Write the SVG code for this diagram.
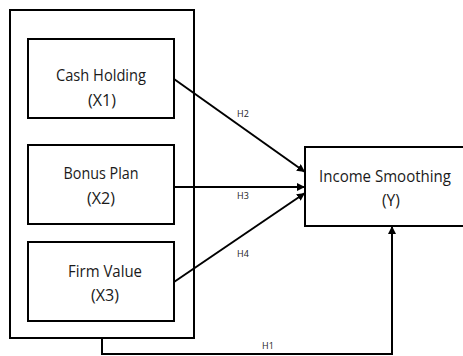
<svg xmlns="http://www.w3.org/2000/svg" width="463" height="356" viewBox="0 0 463 356">
<style>
.box{fill:#fff;stroke:#000;stroke-width:2}
.t{font-family:"Open Sans","Liberation Sans",sans-serif;font-size:17px;fill:#1a1a1a;text-anchor:middle}
.l{font-family:"Open Sans","Liberation Sans",sans-serif;font-size:9px;fill:#222;text-anchor:middle}
.c{fill:none;stroke:#000;stroke-width:2}
</style>
<defs>
<marker id="a" viewBox="0 0 10 10" refX="10" refY="5" markerWidth="4" markerHeight="4" orient="auto" markerUnits="strokeWidth">
<path d="M0,0 L10,5 L0,10 z" fill="#000"/>
</marker>
</defs>
<rect width="463" height="356" fill="#fff"/>
<g id="outer"><rect class="box" x="10" y="10" width="184" height="328"/></g>
<g id="x1"><rect class="box" x="28" y="39" width="146" height="79"/>
<text class="t" x="101" y="81" textLength="90" lengthAdjust="spacingAndGlyphs">Cash Holding</text><text class="t" x="102" y="106" textLength="28" lengthAdjust="spacingAndGlyphs">(X1)</text></g>
<g id="x2"><rect class="box" x="28" y="145" width="146" height="79"/>
<text class="t" x="101" y="179" textLength="75" lengthAdjust="spacingAndGlyphs">Bonus Plan</text><text class="t" x="101" y="204" textLength="28" lengthAdjust="spacingAndGlyphs">(X2)</text></g>
<g id="x3"><rect class="box" x="28" y="242" width="146" height="79"/>
<text class="t" x="105" y="277" textLength="74" lengthAdjust="spacingAndGlyphs">Firm Value</text><text class="t" x="105" y="301" textLength="28" lengthAdjust="spacingAndGlyphs">(X3)</text></g>
<g id="y"><rect class="box" x="305" y="147" width="170" height="79"/>
<text class="t" x="385" y="182" textLength="132" lengthAdjust="spacingAndGlyphs">Income Smoothing</text><text class="t" x="391" y="206" textLength="18" lengthAdjust="spacingAndGlyphs">(Y)</text></g>
<g id="connectors">
<line class="c" x1="174" y1="79" x2="305" y2="172" marker-end="url(#a)"/>
<line class="c" x1="174" y1="187" x2="305" y2="187" marker-end="url(#a)"/>
<line class="c" x1="174" y1="282" x2="305" y2="193" marker-end="url(#a)"/>
<polyline class="c" points="102,338 102,354 392,354 392,226" marker-end="url(#a)"/>
<text class="l" x="243" y="117">H2</text>
<text class="l" x="243" y="199">H3</text>
<text class="l" x="243" y="257">H4</text>
<text class="l" x="268" y="349">H1</text>
</g>
</svg>
